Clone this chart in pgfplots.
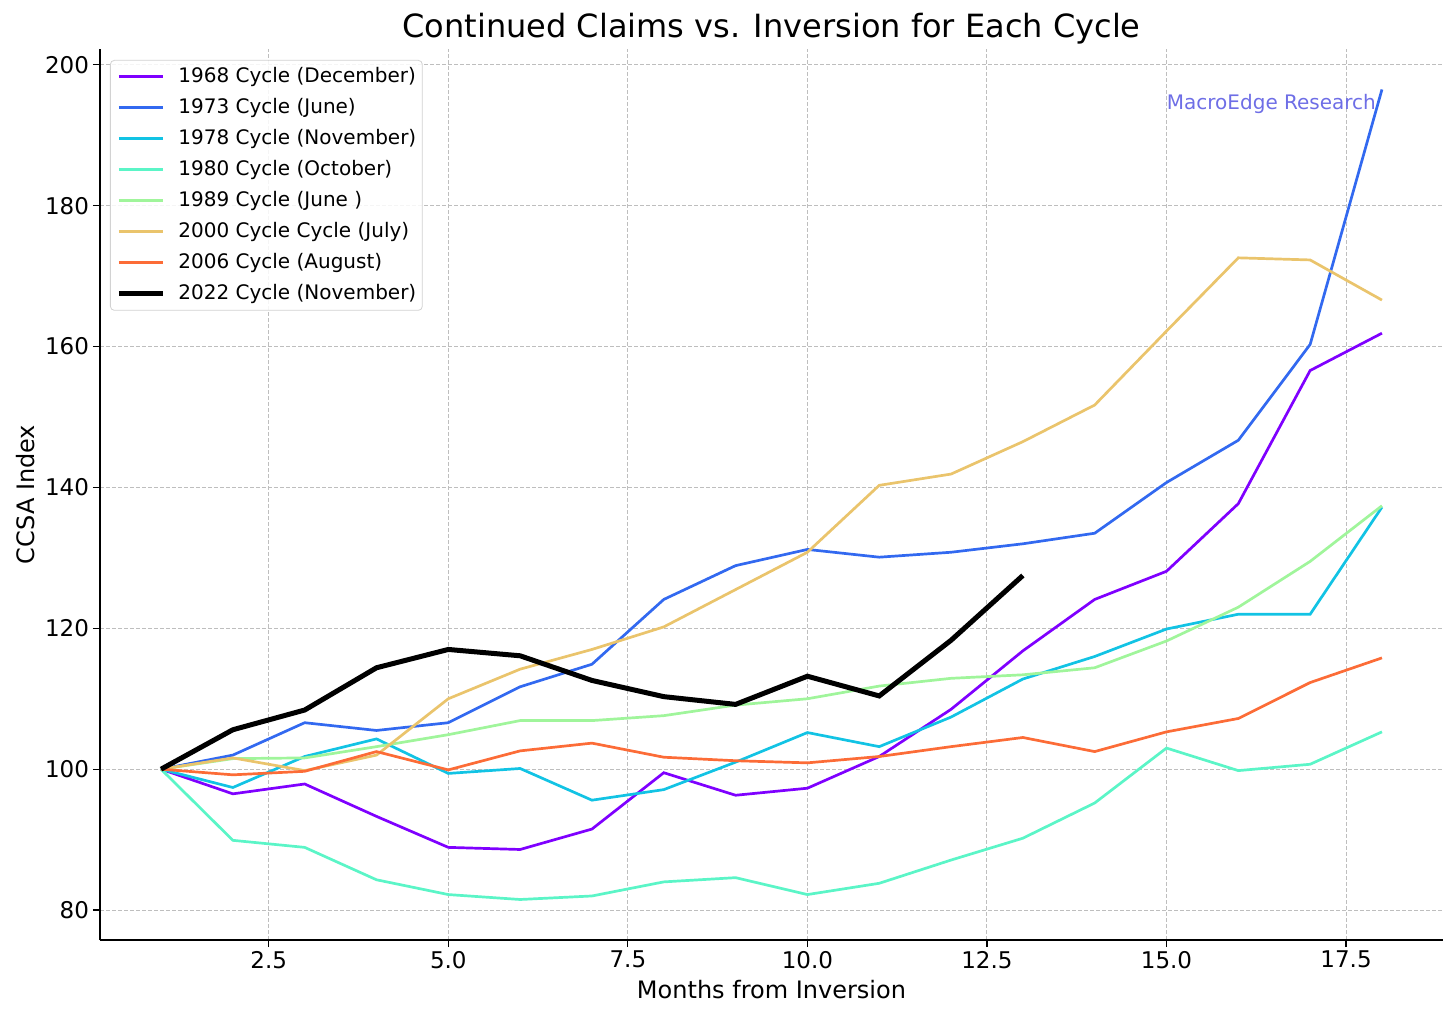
\documentclass[border=0pt]{standalone}
\usepackage{fontspec}
\setmainfont{DejaVu Sans}
\usepackage{pgfplots}
\usepackage{pgfplotstable}
\pgfplotsset{compat=1.18}

\definecolor{c1968}{RGB}{127,0,255}
\definecolor{c1973}{RGB}{50,105,240}
\definecolor{c1978}{RGB}{18,195,228}
\definecolor{c1980}{RGB}{91,245,199}
\definecolor{c1989}{RGB}{160,245,155}
\definecolor{c2000}{RGB}{234,196,108}
\definecolor{c2006}{RGB}{252,108,55}
\definecolor{wm}{RGB}{110,110,230}
\definecolor{gridc}{RGB}{190,190,190}

\pgfplotstableread{
m   a1968  a1973  a1978  a1980  a1989  a2000  a2006
1   100.0  100.0  100.0  100.0  100.0  100.0  100.0
2   96.5   102.0  97.4   89.9   101.5  101.6  99.2
3   97.9   106.6  101.8  88.9   101.6  99.8   99.7
4   93.3   105.5  104.3  84.3   103.2  102.0  102.5
5   88.9   106.6  99.4   82.2   104.9  110.0  99.9
6   88.6   111.7  100.1  81.5   106.9  114.2  102.6
7   91.5   114.9  95.6   82.0   106.9  117.0  103.7
8   99.5   124.1  97.1   84.0   107.6  120.2  101.7
9   96.3   128.9  101.0  84.6   109.1  125.5  101.2
10  97.3   131.2  105.2  82.2   110.0  130.8  100.9
11  101.8  130.1  103.2  83.8   111.8  140.3  101.8
12  108.5  130.8  107.4  87.1   112.9  141.9  103.2
13  116.8  132.0  112.8  90.2   113.4  146.5  104.5
14  124.1  133.5  116.0  95.2   114.4  151.7  102.5
15  128.1  140.7  119.9  103.0  118.2  162.2  105.3
16  137.7  146.7  122.0  99.8   123.0  172.6  107.2
17  156.6  160.3  122.0  100.7  129.5  172.3  112.3
18  161.9  196.5  137.2  105.3  137.4  166.6  115.8
}\cycles

\pgfplotstableread{
m   a2022
1   100.0
2   105.6
3   108.4
4   114.4
5   117.0
6   116.1
7   112.6
8   110.3
9   109.2
10  113.2
11  110.4
12  118.3
13  127.5
}\cyclenow

\begin{document}
\begin{tikzpicture}
\useasboundingbox (-50pt,-38.5pt) rectangle (678pt,470pt);
\begin{axis}[
  name=ax,
  at={(0pt,0pt)}, anchor=south west,
  scale only axis, width=671.5pt, height=445.5pt,
  xmin=0.15, xmax=18.85, ymin=75.75, ymax=202.25,
  axis x line*=bottom, axis y line*=left,
  axis line style={-, line width=1pt, black},
  xtick={2.5,5,7.5,10,12.5,15,17.5},
  ytick={80,100,...,200},
  tick align=outside, major tick length=3.5pt,
  tick style={black, line width=0.6pt},
  /pgf/number format/assume math mode=true,
  ticklabel style={font=\fontsize{11.5}{13}\selectfont},
  xticklabel style={yshift=1.5pt, /pgf/number format/.cd, fixed, fixed zerofill, precision=1},
  yticklabel style={xshift=1.5pt, /pgf/number format/.cd, fixed, precision=0},
  grid=major,
  grid style={dash pattern=on 2pt off 1pt, gridc, line width=0.5pt},
  xlabel={Months from Inversion},
  xlabel style={font=\fontsize{12}{14}\selectfont, at={(axis description cs:0.5,-0.0561)}, anchor=center},
  ylabel={CCSA Index},
  ylabel style={font=\fontsize{12}{14}\selectfont, at={(axis description cs:-0.0558,0.5)}, anchor=center},
  legend cell align=left,
  legend image code/.code={\draw[#1] (0pt,0pt) -- (22pt,0pt);},
  legend style={at={(axis description cs:0.00745,0.9877)}, anchor=north west,
    draw=gray!35, rounded corners=2pt, fill=white, fill opacity=0.85, text opacity=1,
    font=\fontsize{10}{12}\selectfont, inner sep=3pt, row sep=5pt,
    nodes={inner sep=0pt, text height=8pt, text depth=2.5pt},
    /tikz/every odd column/.append style={column sep=6.5pt}},
]
\addplot[c1968, line width=1.35pt] table[x=m, y=a1968] {\cycles};
\addlegendentry{1968 Cycle (December)}
\addplot[c1973, line width=1.35pt] table[x=m, y=a1973] {\cycles};
\addlegendentry{1973 Cycle (June)}
\addplot[c1978, line width=1.35pt] table[x=m, y=a1978] {\cycles};
\addlegendentry{1978 Cycle (November)}
\addplot[c1980, line width=1.35pt] table[x=m, y=a1980] {\cycles};
\addlegendentry{1980 Cycle (October)}
\addplot[c1989, line width=1.35pt] table[x=m, y=a1989] {\cycles};
\addlegendentry{1989 Cycle (June )}
\addplot[c2000, line width=1.35pt] table[x=m, y=a2000] {\cycles};
\addlegendentry{2000 Cycle Cycle (July)}
\addplot[c2006, line width=1.35pt] table[x=m, y=a2006] {\cycles};
\addlegendentry{2006 Cycle (August)}
\addplot[black, line width=2.5pt] table[x=m, y=a2022] {\cyclenow};
\addlegendentry{2022 Cycle (November)}
\node[anchor=base west, inner sep=0pt, text=wm, font=\fontsize{10}{12}\selectfont] at (axis cs:15,193.6) {MacroEdge Research};
\end{axis}
\node[anchor=base, inner sep=0pt, font=\fontsize{16}{19}\selectfont] at ([yshift=5.5pt]ax.north) {Continued Claims vs. Inversion for Each Cycle};
\end{tikzpicture}
\end{document}
